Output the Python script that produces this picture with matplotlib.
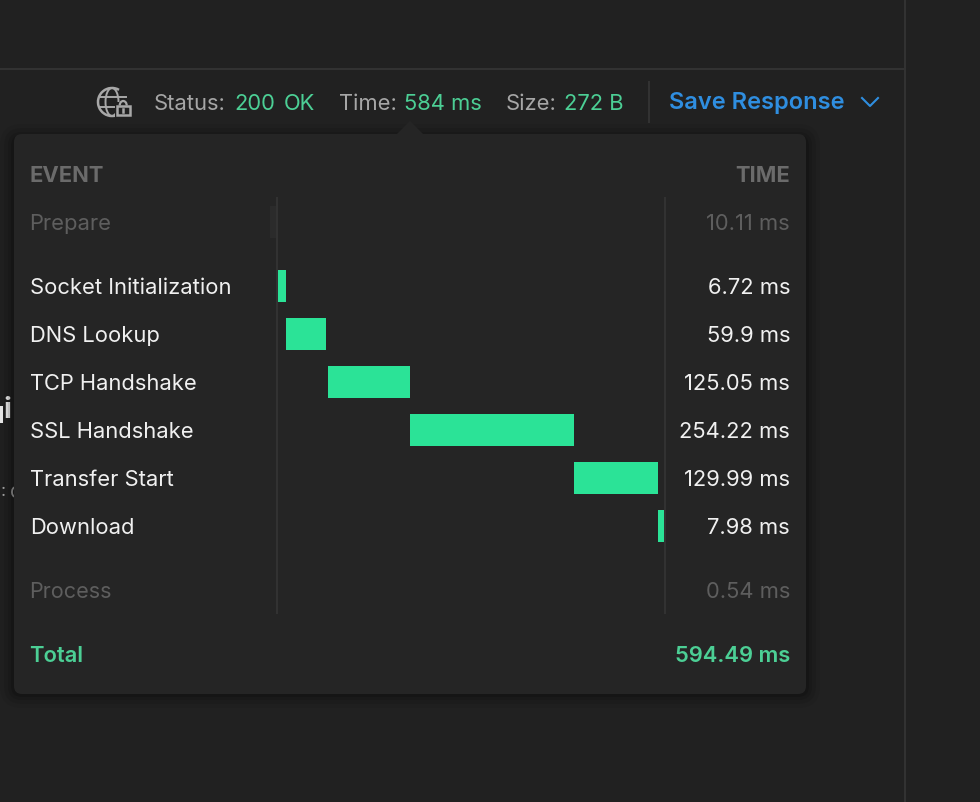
import matplotlib
matplotlib.use('Agg')
import matplotlib.pyplot as plt
from matplotlib.patches import FancyBboxPatch, Polygon, Ellipse, Rectangle, Arc

plt.rcParams['font.family'] = ['Inter', 'DejaVu Sans']

# ------------ data ------------
events = ['Socket Initialization', 'DNS Lookup', 'TCP Handshake', 'SSL Handshake', 'Transfer Start', 'Download']
event_times = ['6.72 ms', '59.9 ms', '125.05 ms', '254.22 ms', '129.99 ms', '7.98 ms']
# where the bars sit on the time scale (ms), small ones have a minimum width on screen
bar_start = [0, 12.4, 77.5, 204.7, 459, 589]
bar_length = [12.4, 62, 127, 254.22, 130, 9.3]

prepare_start = -12.4
prepare_length = 9.3
prepare_time = '10.11 ms'
process_time = '0.54 ms'
total_time = '594.49 ms'

BG = '#212121'
PANEL = '#252525'
LINE = '#323232'
WHITE = '#f0f0f0'
DIM = '#5e5e5e'
HEAD = '#6b6b6b'
GREY = '#a6a6a6'
GREEN = '#4ccf95'
BAR = '#2be397'
BLUE = '#2f8ee0'
FS = 15.8

fig = plt.figure(figsize=(9.8, 8.02), dpi=100, facecolor=BG)
ax = fig.add_axes([0, 0, 1, 1])
ax.set_xlim(0, 980)
ax.set_ylim(802, 0)
ax.axis('off')

# ------------ window lines ------------
ax.plot([0, 905], [69, 69], color=LINE, lw=1.5, zorder=1)
ax.plot([905, 905], [0, 802], color=LINE, lw=1.5, zorder=1)
ax.plot([649, 649], [82, 122], color=LINE, lw=1.5, zorder=1)

# text hidden behind the popup
ax.text(11, 411, 'i', color=WHITE, fontsize=21, fontweight='bold', ha='right', va='center', zorder=1)
ax.add_patch(Rectangle((0, 406), 2.5, 17, fc=WHITE, ec='none', zorder=1))
ax.text(0.5, 492, ':', color=GREY, fontsize=13, ha='left', va='center', zorder=1)
ax.text(9.5, 492, 'c', color=GREY, fontsize=15, ha='left', va='center', zorder=1)

# ------------ status bar ------------
def label(x, y, s, color, ha='left', weight='normal', size=FS, z=6):
    ax.text(x, y, s, color=color, ha=ha, va='center_baseline', fontsize=size, fontweight=weight, zorder=z)

label(154, 102, 'Status:', GREY)
label(234.5, 102, '200', GREEN)
label(284, 102, 'OK', GREEN)
label(339, 102, 'Time:', GREY)
label(404, 102, '584 ms', GREEN)
label(506, 102, 'Size:', GREY)
label(564, 102, '272 B', GREEN)
label(669, 101, 'Save Response', BLUE, weight='semibold', size=17)
ax.plot([862, 870, 878], [98, 106, 98], color=BLUE, lw=1.5, zorder=6)

# globe + lock
ic = '#a8a8a8'
ax.add_patch(Arc((112, 102), 28, 28, theta1=20, theta2=300, color=ic, lw=1.8, zorder=6))
ax.add_patch(Ellipse((112, 102), 13, 28, fill=False, ec=ic, lw=1.4, zorder=6))
ax.plot([99, 126], [97, 97], color=ic, lw=1.4, zorder=6)
ax.plot([99, 115], [107, 107], color=ic, lw=1.4, zorder=6)
ax.add_patch(Rectangle((115, 102), 17, 16, fc=BG, ec='none', zorder=6.5))
ax.add_patch(Rectangle((117, 106), 12.5, 9, fill=False, ec=ic, lw=1.8, zorder=7))
ax.add_patch(Arc((123.2, 105.5), 7, 9, theta1=180, theta2=360, color=ic, lw=1.6, zorder=7))
ax.plot([123.2, 123.2], [109, 112], color=ic, lw=1.8, zorder=7)

# ------------ popup ------------
for grow, alpha in [(14, 0.05), (10, 0.07), (6, 0.10), (3, 0.14)]:
    ax.add_patch(FancyBboxPatch((14 - grow, 134 - grow + 4), 792 + 2 * grow, 560 + 2 * grow - 4,
                                boxstyle='round,pad=0,rounding_size=%d' % (8 + grow),
                                fc='#000000', ec='none', alpha=alpha, zorder=2))
ax.add_patch(FancyBboxPatch((14, 134), 792, 560, boxstyle='round,pad=0,rounding_size=8',
                            fc=PANEL, ec='none', zorder=3))
ax.add_patch(Polygon([[396, 135], [410, 121], [424, 135]], closed=True, fc=PANEL, ec='none', zorder=3))

label(29.5, 174, 'EVENT', HEAD, weight='bold')
label(790, 174, 'TIME', HEAD, ha='right', weight='bold')

ax.plot([277, 277], [198, 613], color=LINE, lw=1.5, zorder=4)
ax.plot([665, 665], [198, 613], color=LINE, lw=1.5, zorder=4)

label(29.5, 222, 'Prepare', DIM)
label(790, 222, prepare_time, DIM, ha='right')
for i in range(len(events)):
    label(30, 286 + 48 * i, events[i], WHITE)
    label(790, 286 + 48 * i, event_times[i], WHITE, ha='right')
label(29.5, 590, 'Process', DIM, size=15.5)
label(790, 590, process_time, DIM, ha='right')
label(29.5, 654, 'Total', GREEN, weight='semibold')
label(790, 654, total_time, GREEN, ha='right', weight='semibold')

# ------------ waterfall bars, x in ms ------------
px_per_ms = 0.645
bx = fig.add_axes([260 / 980, 1 - 614 / 802, 410 / 980, 416 / 802], zorder=5)
bx.patch.set_alpha(0)
bx.set_xlim(-18 / px_per_ms, 392 / px_per_ms)
bx.set_ylim((614 - 286) / 48, (198 - 286) / 48)
bx.axis('off')
bx.barh(range(len(events)), bar_length, left=bar_start, height=32 / 48, color=BAR, linewidth=0)
bx.barh([-64 / 48], [prepare_length], left=[prepare_start], height=32 / 48, color='#2b2b2b', linewidth=0)

fig.savefig('out.png', dpi=100, facecolor=BG)
